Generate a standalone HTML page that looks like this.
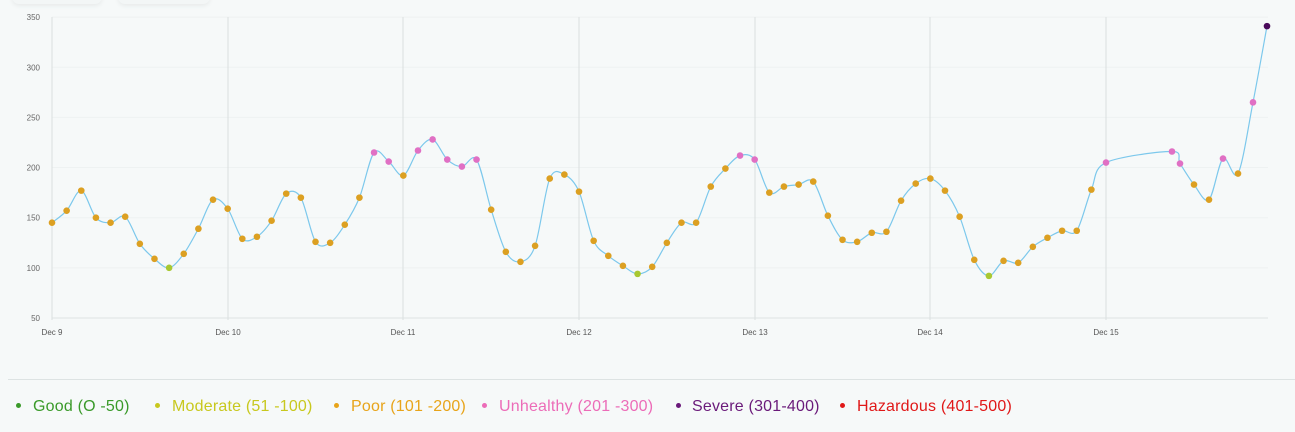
<!DOCTYPE html>
<html><head><meta charset="utf-8"><style>
body{margin:0;width:1295px;height:432px;background:#f6f9f9;font-family:"Liberation Sans",sans-serif;overflow:hidden;position:relative}
.pill{position:absolute;top:-10px;height:14px;border-radius:8px;background:#f3f6f6;box-shadow:0 2px 5px rgba(0,0,0,.06)}
.t{position:absolute;top:398px;font-size:16px;white-space:nowrap;letter-spacing:0.2px}
.d{position:absolute;top:403px;width:5px;height:5px;border-radius:50%}
</style></head><body>
<div class="pill" style="left:12px;width:90px"></div>
<div class="pill" style="left:118px;width:92px"></div>
<svg id="s" width="1295" height="380" style="position:absolute;left:0;top:0" font-family="Liberation Sans, sans-serif"></svg>
<div style="position:absolute;left:8px;right:0;top:379px;height:1px;background:#dde3e3"></div>
<div class="d" style="left:16px;background:#3a9a2a"></div><div class="t" style="left:33px;color:#3a9a2a">Good (O -50)</div>
<div class="d" style="left:155px;background:#c8c81e"></div><div class="t" style="left:172px;color:#c8c81e">Moderate (51 -100)</div>
<div class="d" style="left:334px;background:#e8a41a"></div><div class="t" style="left:351px;color:#e8a41a">Poor (101 -200)</div>
<div class="d" style="left:482px;background:#ec6cb8"></div><div class="t" style="left:499px;color:#ec6cb8">Unhealthy (201 -300)</div>
<div class="d" style="left:676px;background:#6a1a7a"></div><div class="t" style="left:692px;color:#6a1a7a">Severe (301-400)</div>
<div class="d" style="left:840px;background:#e01818"></div><div class="t" style="left:857px;color:#e01818">Hazardous (401-500)</div>
<script>
var s=document.getElementById('s'),h='';
function Y(v){return 318-(v-50)*1.003;}
for(var v=50;v<=350;v+=50){var y=Y(v);h+='<line x1="52" x2="1268" y1="'+y+'" y2="'+y+'" stroke="'+(v==50?'#dfe4e4':'#eef2f2')+'"/>';h+='<text x="40" y="'+(y+3)+'" font-size="8" fill="#666" text-anchor="end">'+v+'</text>';}
var days=[52,228,403,579,755,930,1106];
days.forEach(function(x,i){h+='<line x1="'+x+'" x2="'+x+'" y1="17" y2="320" stroke="#dadfdf"/>';h+='<text x="'+x+'" y="335" font-size="8" fill="#555" text-anchor="middle">Dec '+(9+i)+'</text>';});
var vals=[145,157,177,150,145,151,124,109,100,114,139,168,159,129,131,147,174,170,126,125,143,170,215,206,192,217,228,208,201,208,158,116,106,122,189,193,176,127,112,102,94,101,125,145,145,181,199,212,208,175,181,183,186,152,128,126,135,136,167,184,189,177,151,108,92,107,105,121,130,137,137,178,205];
var P=[];vals.forEach(function(v,i){P.push([52+i*175.67/12,v]);});
[[1172,216],[1180,204],[1194,183],[1209,168],[1223,209],[1238,194],[1253,265],[1267,341]].forEach(function(p){P.push(p)});
var pts=P.map(function(p){return [p[0],Y(p[1])]});
var d='M'+pts[0][0]+','+pts[0][1];
for(var i=0;i<pts.length-1;i++){var p0=pts[i-1]||pts[i],p1=pts[i],p2=pts[i+1],p3=pts[i+2]||p2,t=0.16;
d+=' C'+(p1[0]+(p2[0]-p0[0])*t)+','+(p1[1]+(p2[1]-p0[1])*t)+' '+(p2[0]-(p3[0]-p1[0])*t)+','+(p2[1]-(p3[1]-p1[1])*t)+' '+p2[0]+','+p2[1];}
h+='<path d="'+d+'" fill="none" stroke="#7cc8ec" stroke-width="1.2"/>';
P.forEach(function(p,i){var v=p[1],c=v<=100?'#a8c832':v<=200?'#dca022':v<=300?'#e070c4':'#4a0a5a';h+='<circle cx="'+pts[i][0]+'" cy="'+pts[i][1]+'" r="3.3" fill="'+c+'"/>';});
s.innerHTML=h;
</script>
</body></html>
